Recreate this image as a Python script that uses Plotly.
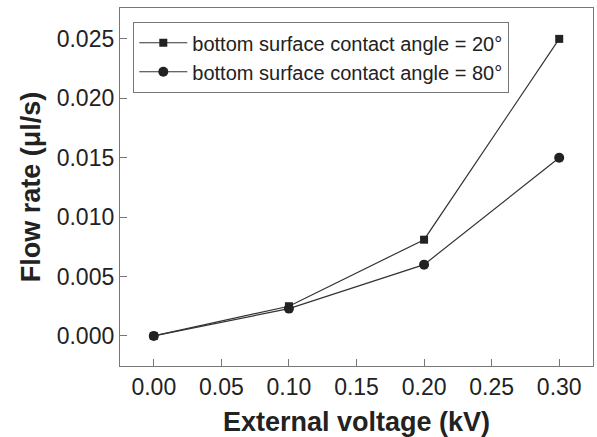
import plotly.graph_objects as go

voltage = [0.00, 0.10, 0.20, 0.30]
flow_20 = [0.0000, 0.0025, 0.0081, 0.0250]
flow_80 = [0.0000, 0.0023, 0.0060, 0.0150]
names = ["bottom surface contact angle = 20°", "bottom surface contact angle = 80°"]
xticks = [0.00, 0.05, 0.10, 0.15, 0.20, 0.25, 0.30]
yticks = [0.000, 0.005, 0.010, 0.015, 0.020, 0.025]

ink = "#222222"
fig = go.Figure()
fig.add_trace(go.Scatter(x=voltage, y=flow_20, mode="lines+markers", name=names[0],
                         line=dict(color="#333333", width=1.2),
                         marker=dict(symbol="square", size=8, color=ink)))
fig.add_trace(go.Scatter(x=voltage, y=flow_80, mode="lines+markers", name=names[1],
                         line=dict(color="#333333", width=1.2),
                         marker=dict(symbol="circle", size=10, color=ink)))

axis_common = dict(showgrid=False, zeroline=False, showline=True, linecolor="#777777",
                   linewidth=1.3, mirror=True, ticks="inside", ticklen=7,
                   tickcolor="#777777", tickwidth=1.3,
                   tickfont=dict(family="Liberation Sans, Arial", size=23, color=ink))

fig.update_xaxes(range=[-0.025, 0.325], tickvals=xticks,
                 ticktext=[f"{v:.2f}" for v in xticks],
                 title=dict(text="<b>External voltage (kV)</b>", standoff=13,
                            font=dict(family="Liberation Sans, Arial", size=27, color=ink)),
                 **axis_common)
fig.update_yaxes(range=[-0.00253, 0.0276], tickvals=yticks,
                 ticktext=[f"{v:.3f}" for v in yticks],
                 title=dict(text="<b>Flow rate (μl/s)</b>", standoff=8,
                            font=dict(family="Liberation Sans, Arial", size=27, color=ink)),
                 **axis_common)

fig.update_layout(
    width=597, height=437,
    margin=dict(l=120, r=4, t=8, b=71),
    paper_bgcolor="white", plot_bgcolor="white",
    showlegend=True,
    legend=dict(x=0.0275, y=0.961, xanchor="left", yanchor="top",
                bordercolor="#777777", borderwidth=1.3, bgcolor="white",
                font=dict(family="Liberation Sans, Arial", size=20, color=ink),
                tracegroupgap=0, itemwidth=48),
)

fig.write_html("out.html")
